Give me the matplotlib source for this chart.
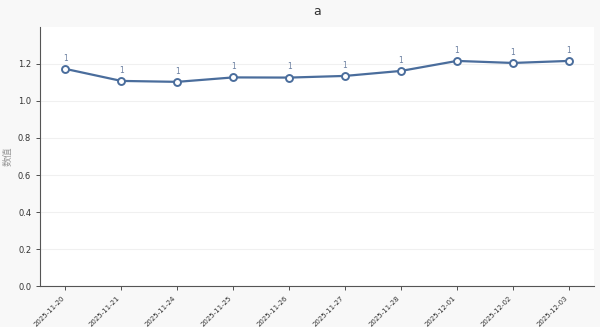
import matplotlib.pyplot as plt
import numpy as np

plt.rcParams['font.family'] = ['DejaVu Sans', 'Noto Sans CJK SC']

# 日期与数值
dates = ['2025-11-20', '2025-11-21', '2025-11-24', '2025-11-25', '2025-11-26',
         '2025-11-27', '2025-11-28', '2025-12-01', '2025-12-02', '2025-12-03']
values = [1.173, 1.108, 1.103, 1.127, 1.126, 1.135, 1.162, 1.216, 1.205, 1.216]

line_color = '#4a6d9c'

fig, ax = plt.subplots(figsize=(6, 3.27), dpi=100)
fig.patch.set_facecolor('#f8f8f8')
ax.set_facecolor('white')

x = np.arange(len(dates))
ax.plot(x, values, color=line_color, linewidth=1.6, marker='o', markersize=5,
        markerfacecolor='white', markeredgecolor=line_color, markeredgewidth=1.4)

# 数据标签
for xi, v in zip(x, values):
    ax.annotate(f'{v:.0f}', (xi, v), textcoords='offset points', xytext=(0, 6),
                ha='center', fontsize=5.5, color='#6a7fa0')

ax.set_xticks(x)
ax.set_xticklabels(dates, rotation=45, ha='right', fontsize=5)
ax.tick_params(axis='y', labelsize=6)
ax.tick_params(length=3, width=0.6, colors='#333333')
ax.set_ylim(0, max(values) * 1.15)
ax.set_yticks([0.0, 0.2, 0.4, 0.6, 0.8, 1.0, 1.2])

ax.set_title('a', fontsize=9, color='#333333', pad=9)
ax.set_ylabel('数值', fontsize=7, color='#999999', family=['Noto Sans CJK SC', 'DejaVu Sans'])

ax.grid(axis='y', color='#f0f0f0', linewidth=0.8)
ax.set_axisbelow(True)
for side in ['top', 'right']:
    ax.spines[side].set_visible(False)
for side in ['left', 'bottom']:
    ax.spines[side].set_color('#555555')
    ax.spines[side].set_linewidth(0.8)

plt.subplots_adjust(left=0.067, right=0.99, top=0.917, bottom=0.125)
plt.savefig('out.png', dpi=100, facecolor=fig.get_facecolor())
